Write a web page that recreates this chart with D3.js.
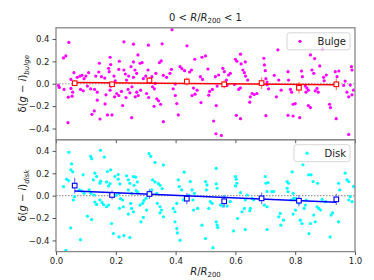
<!DOCTYPE html>
<html>
  <head>
    <meta charset="utf-8">
    <title>Colour offsets vs radius</title>
    <script src="https://d3js.org/d3.v7.min.js"></script>
    <style>
      body { margin: 0; background: #fff; }
      text { font-family: "DejaVu Sans", sans-serif; fill: #222; }
      .tick text { font-size: 8.5px; }
    </style>
  </head>
  <body>
    <svg id="chart" width="374" height="280"></svg>
    <script>
      // data
      var binX = [0.0625, 0.1875, 0.3125, 0.4375, 0.5625, 0.6875, 0.8125, 0.9375];
      var bulgeMean = [0.005, -0.005, 0.03, 0.02, -0.005, 0.006, -0.036, -0.005];
      var bulgeErr = [0.025, 0.025, 0.03, 0.035, 0.037, 0.053, 0.052, 0.052];
      var bulgeFit = [[0.0625, 0.012], [0.9375, -0.008]];
      var diskMean = [0.09, 0.006, 0.015, -0.027, -0.05, -0.024, -0.045, -0.033];
      var diskErr = [0.07, 0.04, 0.045, 0.05, 0.057, 0.053, 0.05, 0.05];
      var diskFit = [[0.0625, 0.042], [0.9375, -0.06]];
      var yTicks = [-0.4, -0.2, 0.0, 0.2, 0.4];
      var xTicks = [0.0, 0.2, 0.4, 0.6, 0.8, 1.0];

      // individual galaxies, top panel
      var bulgePts = [
        [.043,.369],[.025,.231],[.033,.249],[.040,-.348],[.008,-.015],[.011,-.033],[.027,-.051],[.050,-.042],
        [.056,-.075],[.041,-.12],[.054,-.111],[.060,.099],[.050,.039],[.071,.057],[.080,.069],[.087,.075],
        [.094,.045],[.100,.069],[.109,.099],[.082,-.051],[.091,-.063],[.105,-.021],[.116,-.045],[.129,-.051],
        [.138,-.075],[.120,-.273],[.128,-.243],[.147,-.315],[.145,.183],[.143,.105],[.133,.069],[.152,.063],
        [.163,.051],[.138,-.147],[.164,-.18],[.167,-.099],[.181,-.057],[.183,-.021],[.172,-.279],[.187,-.279],
        [.178,.108],[.176,.138],[.183,.171],[.181,.237],[.194,.069],[.198,.027],[.210,.129],[.212,.201],
        [.203,-.087],[.210,-.105],[.196,-.117],[.219,-.069],[.223,-.195],[.227,.375],[.232,.087],[.236,.033],
        [.243,.069],[.227,.123],[.241,-.051],[.247,-.081],[.234,-.123],[.253,-.303],[.254,-.027],[.259,.354],
        [.259,.195],[.264,.123],[.270,.093],[.259,.057],[.251,.153],[.274,.258],[.281,.183],[.288,.189],
        [.270,-.075],[.275,-.105],[.283,-.057],[.265,-.117],[.292,.045],[.300,.069],[.308,.123],[.309,.345],
        [.303,-.087],[.310,-.123],[.323,-.027],[.329,-.045],[.332,.003],[.321,.063],[.334,.093],[.328,-.201],
        [.337,-.135],[.343,-.153],[.350,-.183],[.346,.189],[.352,.204],[.355,.357],[.359,-.339],[.359,.075],
        [.370,.057],[.381,.093],[.386,.129],[.388,.483],[.392,-.045],[.399,-.003],[.399,-.105],[.415,.153],
        [.409,-.279],[.421,.135],[.430,.117],[.404,-.177],
        [.438,.339],[.464,.219],[.488,.237],[.500,.249],[.508,.132],[.453,.123],[.447,.105],[.483,.063],
        [.490,.039],[.460,-.039],[.472,-.057],[.455,-.105],[.465,-.093],[.485,-.168],[.511,-.102],[.514,-.069],
        [.523,-.051],[.527,-.333],[.536,-.195],[.535,-.447],[.553,-.462],[.533,.063],[.544,.078],[.539,-.021],
        [.558,.138],[.563,.108],[.577,.078],[.583,.093],[.570,.033],[.572,-.015],[.600,.219],[.605,.201],
        [.617,.264],[.619,.177],[.633,.195],[.603,-.282],[.617,-.312],[.597,-.006],[.611,-.051],[.617,-.036],
        [.625,.123],[.630,.099],[.634,.069],[.641,.033],[.650,-.117],[.648,-.165],[.656,-.087],[.663,-.096],
        [.672,-.087],[.697,.168],[.700,.117],[.695,.228],[.702,.045],[.706,.015],[.711,-.045],[.706,-.009],
        [.702,-.285],[.742,.303],[.730,.075],[.745,.033],[.737,-.117],[.753,-.057],[.776,.108],[.778,.033],
        [.784,-.051],[.788,-.075],[.776,-.282],[.793,-.288],[.793,-.183],[.800,-.177],[.821,.114],[.824,.063],
        [.815,-.303],[.834,-.021],[.839,-.039],[.844,-.057],[.836,-.075],[.851,.258],[.856,.123],[.862,.093],
        [.865,.225],[.873,-.042],[.867,-.063],[.877,-.075],[.844,-.195],[.851,-.213],[.882,.159],[.891,.312],
        [.895,.057],[.904,.078],[.897,.027],[.915,-.183],[.918,-.213],[.937,-.312],[.934,.108],[.946,.114],
        [.940,.063],[.967,.024],[.962,-.015],[.984,-.012],[.988,.153],[.990,.123],[.973,-.075],[.979,-.117],
        [.990,-.099],[.995,-.057],[.979,-.453]
      ];
      // individual galaxies, bottom panel
      var diskPts = [
        [.043,.387],[.052,.285],[.050,.231],[.056,.213],[.025,.081],[.036,.147],[.042,.135],[.049,-.288],
        [.082,-.393],[.033,-.489],[.091,.186],[.078,.051],[.086,.042],[.094,.021],[.058,-.039],[.062,-.009],
        [.105,-.183],[.119,-.213],[.116,.351],[.119,.330],[.130,.201],[.136,.171],[.125,.141],[.147,.111],
        [.149,.129],[.111,.051],[.117,.021],[.128,.006],[.130,-.057],[.136,-.078],[.147,-.039],[.154,-.063],
        [.159,-.081],[.149,.405],[.162,.345],[.172,.216],[.169,.123],[.181,.108],[.176,.087],[.183,.231],
        [.169,-.099],[.176,-.084],[.186,-.249],[.192,-.339],[.197,.171],[.208,.147],[.208,.189],[.214,.105],
        [.201,.003],[.210,.021],[.216,-.027],[.212,-.114],[.225,-.099],[.223,-.039],[.211,-.369],[.227,-.357],
        [.247,-.375],[.242,-.165],[.253,-.114],[.259,-.144],[.250,-.069],[.236,.177],[.242,.141],[.247,.111],
        [.261,.093],[.259,.171],[.242,.051],[.253,.021],[.268,.045],[.273,.033],[.266,.165],[.272,.123],
        [.281,-.084],[.290,-.069],[.294,-.045],[.301,-.024],[.284,-.234],[.292,-.195],[.303,-.129],[.311,.375],
        [.317,.351],[.331,.297],[.323,.141],[.331,.123],[.342,.108],[.348,.093],[.355,.063],[.339,-.069],
        [.348,-.099],[.353,-.129],[.348,-.153],[.359,-.189],[.359,.273],[.320,.051],[.337,.021],[.392,-.114],
        [.398,-.144],[.404,-.069],[.398,-.234],[.404,-.294],[.406,-.333],[.415,-.399],[.409,.141],[.412,.081],
        [.420,.051],[.429,.21],[.426,-.039],[.431,-.024],
        [.449,.126],[.455,.051],[.444,.006],[.458,-.039],[.463,.021],[.460,-.129],[.474,-.114],[.500,.126],
        [.505,.096],[.503,.051],[.488,-.264],[.500,-.384],[.525,-.465],[.511,-.114],[.516,-.054],[.522,-.069],
        [.536,.243],[.536,.105],[.539,.066],[.536,-.234],[.539,-.264],[.541,-.285],[.563,-.009],[.558,-.093],
        [.550,-.084],[.572,-.093],[.583,-.054],[.600,.171],[.603,.147],[.600,.087],[.605,.111],[.594,-.315],
        [.607,-.204],[.617,.027],[.622,-.144],[.630,-.114],[.633,-.039],[.639,.006],[.650,-.114],[.648,-.135],
        [.633,-.303],[.661,-.039],[.656,-.024],[.706,-.303],[.700,.171],[.702,.111],[.709,.117],[.706,.036],
        [.697,-.084],[.706,-.099],[.722,.036],[.728,.036],[.750,-.159],[.745,-.189],[.761,-.219],[.752,-.264],
        [.773,.126],[.778,.111],[.776,.036],[.773,.066],[.786,-.039],[.793,.021],[.795,-.024],[.790,.213],
        [.793,-.165],[.801,-.129],[.801,-.024],[.812,-.069],[.817,-.219],[.823,-.249],[.826,.276],[.830,-.114],
        [.834,-.084],[.837,-.039],[.845,.186],[.853,.186],[.846,-.339],[.851,-.249],[.867,-.234],[.862,-.174],
        [.873,-.099],[.879,-.114],[.885,-.129],[.860,.126],[.875,.111],[.890,-.033],[.901,-.054],[.917,-.369],
        [.920,-.174],[.925,-.153],[.945,-.234],[.945,.111],[.949,.051],[.967,.201],[.973,.141],[.979,.126],
        [.984,-.009],[.990,-.054],[.995,.081],[.979,-.039]
      ];

      var panels = [
        { name: "Bulge", sub: "bulge", pts: bulgePts, mean: bulgeMean, err: bulgeErr, fit: bulgeFit,
          dot: "#ff00ff", line: "#ff0000", bar: "#ff8080", top: 27.8 },
        { name: "Disk", sub: "disk", pts: diskPts, mean: diskMean, err: diskErr, fit: diskFit,
          dot: "#00ffff", line: "#0000ff", bar: "#8080ff", top: 139.7 }
      ];

      var svg = d3.select("#chart");
      var left = 56, right = 355, panelH = 111.9;
      var x = d3.scaleLinear().domain([0, 1]).range([left, right]);
      var fmt = function(d) { return d3.format(".1f")(d).replace("-", "\u2212"); };

      panels.forEach(function(p, k) {
        var y = d3.scaleLinear().domain([-0.5, 0.5]).range([p.top + panelH, p.top]);
        var g = svg.append("g");
        var clipId = "clip" + k;
        g.append("clipPath").attr("id", clipId)
          .append("rect").attr("x", left).attr("y", p.top).attr("width", right - left).attr("height", panelH);
        var plot = g.append("g").attr("clip-path", "url(#" + clipId + ")");

        // zero line
        plot.append("line")
          .attr("x1", left).attr("x2", right)
          .attr("y1", y(0)).attr("y2", y(0))
          .attr("stroke", "#999").attr("stroke-width", 1.2).attr("stroke-dasharray", "1.5,1.5");

        plot.selectAll(".pt")
          .data(p.pts)
          .enter().append("circle")
            .attr("cx", function(d) { return x(d[0]); })
            .attr("cy", function(d) { return y(d[1]); })
            .attr("r", 1.6)
            .attr("fill", p.dot);

        // error bars
        plot.selectAll(".err")
          .data(binX)
          .enter().append("line")
            .attr("x1", function(d) { return x(d); })
            .attr("x2", function(d) { return x(d); })
            .attr("y1", function(d, i) { return y(p.mean[i] - p.err[i]); })
            .attr("y2", function(d, i) { return y(p.mean[i] + p.err[i]); })
            .attr("stroke", p.bar).attr("stroke-width", 1.3);

        // fit
        plot.append("path")
          .datum(p.fit)
          .attr("d", d3.line().x(function(d) { return x(d[0]); }).y(function(d) { return y(d[1]); }))
          .attr("stroke", p.line).attr("stroke-width", 1.5).attr("fill", "none");

        plot.selectAll(".sq")
          .data(binX)
          .enter().append("rect")
            .attr("x", function(d) { return x(d) - 2.3; })
            .attr("y", function(d, i) { return y(p.mean[i]) - 2.3; })
            .attr("width", 4.6).attr("height", 4.6)
            .attr("fill", "#fff").attr("stroke", p.line).attr("stroke-width", 1.1);

        // frame
        g.append("rect")
          .attr("x", left).attr("y", p.top).attr("width", right - left).attr("height", panelH)
          .attr("fill", "none").attr("stroke", "#888").attr("stroke-width", 1.3);

        var yAxis = g.append("g")
          .attr("transform", "translate(" + left + ",0)")
          .call(d3.axisLeft(y).tickValues(yTicks).tickSize(3.5).tickPadding(3).tickFormat(fmt));
        yAxis.select(".domain").remove();
        yAxis.selectAll(".tick line").attr("stroke", "#555");

        var xAxis = g.append("g")
          .attr("transform", "translate(0," + (p.top + panelH) + ")")
          .call(d3.axisBottom(x).tickValues(xTicks).tickSize(3.5).tickPadding(3).tickFormat(fmt));
        xAxis.select(".domain").remove();
        xAxis.selectAll(".tick line").attr("stroke", "#555");
        if (k === 0) xAxis.selectAll(".tick text").remove();

        // y label
        var lab = g.append("text")
          .attr("transform", "translate(26," + (p.top + panelH / 2) + ") rotate(-90)")
          .attr("text-anchor", "middle")
          .style("font-size", "10px");
        lab.append("tspan").text("\u03b4(");
        lab.append("tspan").style("font-style", "italic").text("g");
        lab.append("tspan").text(" \u2212 ");
        lab.append("tspan").style("font-style", "italic").text("i");
        lab.append("tspan").text(")");
        lab.append("tspan").style("font-style", "italic").style("font-size", "7px").attr("dy", 2.5).text(p.sub);

        // legend
        var lg = g.append("g").attr("transform", "translate(" + (k === 0 ? 287 : 294) + "," + (p.top + 5) + ")");
        var lw = k === 0 ? 63 : 56;
        lg.append("rect").attr("width", lw).attr("height", 17).attr("rx", 2.5)
          .attr("fill", "#fff").attr("fill-opacity", 0.8).attr("stroke", "#ccc").attr("stroke-width", 0.8);
        lg.append("circle").attr("cx", 13).attr("cy", 8.5).attr("r", 1.6).attr("fill", p.dot);
        lg.append("text").attr("x", lw - 4).attr("y", 12.3).attr("text-anchor", "end")
          .style("font-size", "10px").text(p.name);
      });

      // title
      var title = svg.append("text")
        .attr("x", (left + right) / 2).attr("y", 21)
        .attr("text-anchor", "middle").style("font-size", "10px");
      title.append("tspan").text("0 < ");
      title.append("tspan").style("font-style", "italic").text("R");
      title.append("tspan").text("/");
      title.append("tspan").style("font-style", "italic").text("R");
      title.append("tspan").style("font-size", "7px").attr("dy", 2).text("200");
      title.append("tspan").attr("dy", -2).text(" < 1");

      // x label
      var xl = svg.append("text")
        .attr("x", (left + right) / 2).attr("y", 275)
        .attr("text-anchor", "middle").style("font-size", "10px");
      xl.append("tspan").style("font-style", "italic").text("R");
      xl.append("tspan").text("/");
      xl.append("tspan").style("font-style", "italic").text("R");
      xl.append("tspan").style("font-size", "7px").attr("dy", 2).text("200");
    </script>
  </body>
</html>
